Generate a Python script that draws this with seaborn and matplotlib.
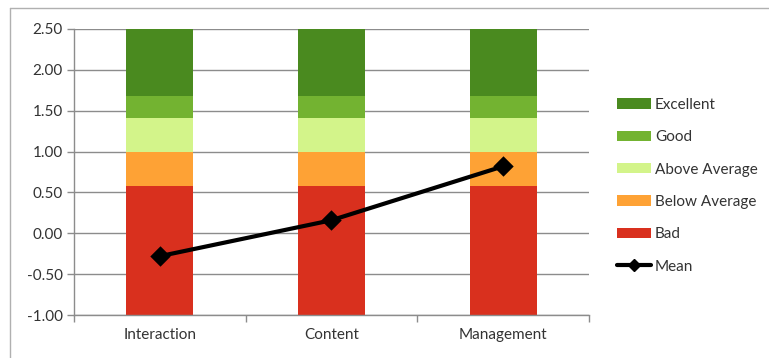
import matplotlib
matplotlib.use("Agg")
import matplotlib.pyplot as plt
import seaborn as sns
import pandas as pd
from matplotlib.patches import Patch
from matplotlib.lines import Line2D

categories = ["Interaction", "Content", "Management"]
series = ["Bad", "Below Average", "Above Average", "Good", "Excellent"]
# upper boundary of each segment (bars start at -1.00)
bad_top = [0.58, 0.58, 0.58]
below_top = [1.00, 1.00, 1.00]
above_top = [1.41, 1.41, 1.41]
good_top = [1.68, 1.68, 1.68]
excellent_top = [2.50, 2.50, 2.50]
mean_vals = [-0.28, 0.16, 0.82]
yticks = [-1.0, -0.5, 0.0, 0.5, 1.0, 1.5, 2.0, 2.5]
base = -1.0

colors = {
    "Excellent": "#4a8a1f",
    "Good": "#73b331",
    "Above Average": "#d3f48a",
    "Below Average": "#fea235",
    "Bad": "#d9301e",
}

sns.set_theme(style="white")
plt.rcParams["font.family"] = ["Lato", "DejaVu Sans"]

fig = plt.figure(figsize=(7.69, 3.58), dpi=100)
ax = fig.add_axes([0.096, 0.120, 0.670, 0.799])

tops = {"Bad": bad_top, "Below Average": below_top, "Above Average": above_top,
        "Good": good_top, "Excellent": excellent_top}

ax.set_axisbelow(True)
for y in yticks:
    ax.axhline(y, color="#8c8c8c", lw=1.0, zorder=0)

for name in reversed(series):
    df = pd.DataFrame({"cat": categories, "h": [t - base for t in tops[name]]})
    sns.barplot(data=df, x="cat", y="h", color=colors[name], bottom=base,
                width=0.39, saturation=1, ax=ax, errorbar=None, zorder=2,
                edgecolor="none", linewidth=0)

dfm = pd.DataFrame({"cat": categories, "mean": mean_vals})
sns.pointplot(data=dfm, x="cat", y="mean", color="black", markers="D",
              linestyles="-", ax=ax, errorbar=None, markersize=8,
              linewidth=3.0, zorder=5)

ax.set_xlim(-0.5, 2.5)
ax.set_ylim(-1.0, 2.5)
ax.set_yticks(yticks)
ax.set_yticklabels([f"{v:.2f}" for v in yticks])
ax.set_xlabel("")
ax.set_ylabel("")
ax.set_xticks([-0.5, 0.5, 1.5, 2.5], minor=True)
ax.tick_params(axis="x", which="major", length=0, labelsize=11,
               labelcolor="#333333", pad=9)
ax.tick_params(axis="x", which="minor", length=5, color="#8c8c8c", width=1,
               direction="out", bottom=True)
ax.tick_params(axis="y", length=5, color="#8c8c8c", width=1, direction="out",
               left=True, labelsize=11, labelcolor="#333333", pad=3)
for s in ["top", "right"]:
    ax.spines[s].set_visible(False)
for s in ["left", "bottom"]:
    ax.spines[s].set_color("#8c8c8c")
    ax.spines[s].set_linewidth(1)
    ax.spines[s].set_visible(True)

handles = [Patch(facecolor=colors[n], edgecolor="none") for n in reversed(series)]
handles.append(Line2D([0], [0], color="black", lw=3.0, marker="D", markersize=6))
labels = list(reversed(series)) + ["Mean"]
fig.legend(handles, labels, loc="upper left", bbox_to_anchor=(0.785, 0.765),
           frameon=False, fontsize=11, handlelength=2.2, handleheight=0.65,
           handletextpad=0.25, labelspacing=1.2, labelcolor="#333333")

# outer chart frame
fig.add_artist(Line2D([10 / 769, 1.0], [1 - 8 / 358, 1 - 8 / 358],
                      transform=fig.transFigure, color="#b0b0b0", lw=1))
fig.add_artist(Line2D([10 / 769, 10 / 769], [0.0, 1 - 8 / 358],
                      transform=fig.transFigure, color="#b0b0b0", lw=1))

fig.savefig("out.png", dpi=100)
